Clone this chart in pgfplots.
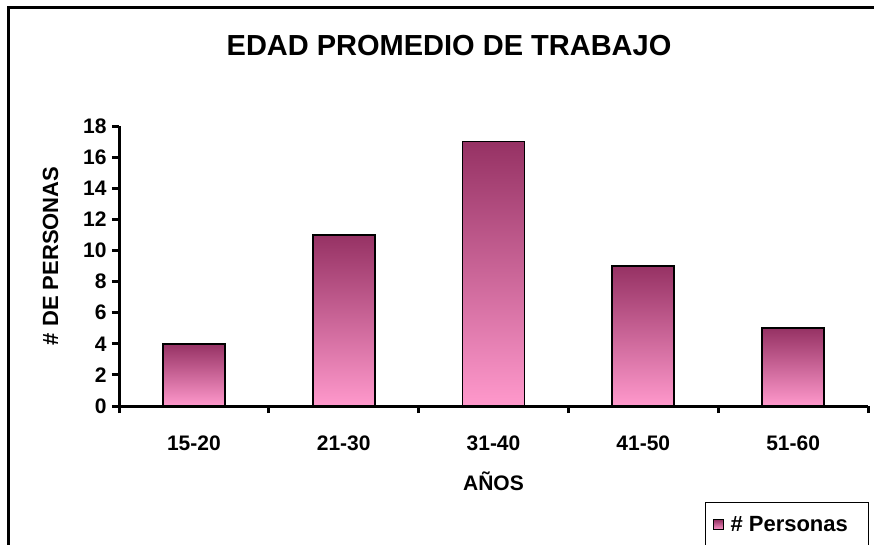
\documentclass[border=0pt]{standalone}
\usepackage{pgfplots}
\pgfplotsset{compat=1.18}
\usepackage{fontspec}
\setmainfont{Liberation Sans}
\definecolor{bartop}{RGB}{150,50,100}
\definecolor{barbot}{RGB}{255,153,204}
\begin{document}
\begin{tikzpicture}[x=1pt,y=1pt]
\useasboundingbox (0,0) rectangle (874,544);
\fill[white] (0,0) rectangle (874,544);
\draw[line width=2.2pt] (8.5,-10) -- (8.5,536.5) -- (884,536.5);
\begin{axis}[
  at={(119pt,138pt)}, anchor=south west,
  width=749pt, height=280pt, scale only axis,
  xmin=-0.5, xmax=4.5, ymin=0, ymax=18,
  axis x line*=bottom, axis y line*=left,
  axis line style={line width=3pt, black},
  xtick={0,...,4},
  xticklabels={15-20,21-30,31-40,41-50,51-60},
  major x tick style={draw=none},
  minor xtick={-0.5,0.5,1.5,2.5,3.5,4.5},
  every minor tick/.append style={line width=3pt, black},
  every major tick/.append style={line width=3pt, black},
  ytick={0,2,...,18},
  minor tick length=7pt, major tick length=7pt,
  tick align=outside,
  /pgf/number format/assume math mode=true,
  ticklabel style={font=\fontsize{21}{24}\selectfont\bfseries},
  yticklabel style={xshift=-2pt},
  xticklabel style={yshift=-19pt},
  title={EDAD PROMEDIO DE TRABAJO},
  title style={at={(0.4406,1.265)}, anchor=center, font=\fontsize{29}{34}\selectfont\bfseries},
  ylabel={\# DE PERSONAS},
  ylabel style={at={(-0.0915,0.536)}, anchor=center, font=\fontsize{22}{26}\selectfont\bfseries},
  xlabel={AÑOS},
  xlabel style={at={(0.5,-0.268)}, anchor=center, font=\fontsize{21}{25}\selectfont\bfseries},
  ybar, bar width=62pt, bar shift=0pt,
  legend style={at={(0.7824,-0.343)}, anchor=north west, draw=black, line width=1pt,
    font=\fontsize{22}{26}\selectfont\bfseries, inner xsep=7pt, inner ysep=12pt},
  legend image code/.code={\draw[#1, line width=1pt] (0pt,-5pt) rectangle (10pt,5pt);},
  barstyle/.style={draw=black, line width=1.8pt, top color=bartop, bottom color=barbot},
]
\addplot[barstyle] coordinates {(0,4)};
\addlegendentry{\hspace*{5pt}\# Personas\hspace*{12pt}\null}
\addplot[barstyle, forget plot] coordinates {(1,11)};
\addplot[barstyle, forget plot] coordinates {(2,17)};
\addplot[barstyle, forget plot] coordinates {(3,9)};
\addplot[barstyle, forget plot] coordinates {(4,5)};
\end{axis}
\end{tikzpicture}
\end{document}
